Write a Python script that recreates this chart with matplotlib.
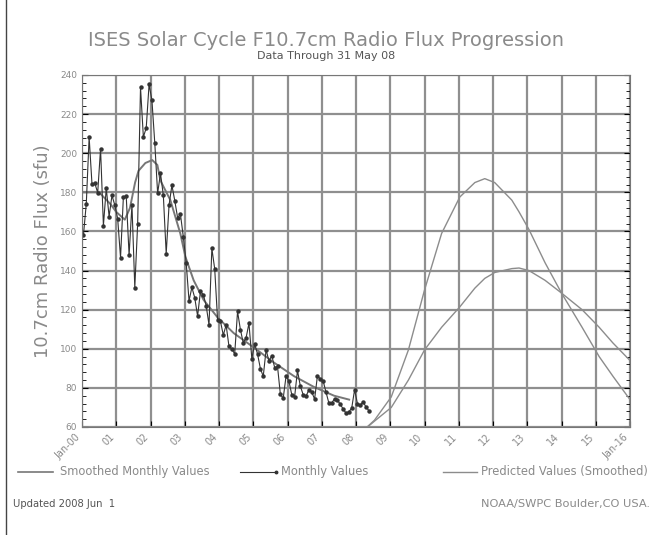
import matplotlib.pyplot as plt
import numpy as np
from matplotlib.ticker import MultipleLocator

# monthly observed F10.7 (Jan 2000 .. May 2008)
monthly = [
    158.1, 174.1, 208.2, 184.2, 184.6, 179.8, 202.3, 163.0, 182.1, 167.6, 178.4, 173.4,   # 2000
    166.6, 146.6, 177.7, 178.0, 147.8, 173.7, 131.3, 163.9, 233.7, 208.3, 212.9, 235.2,   # 2001
    227.1, 205.2, 179.5, 189.8, 178.4, 148.7, 173.5, 183.6, 175.8, 167.0, 168.7, 157.2,   # 2002
    144.0, 124.5, 131.4, 126.1, 116.7, 129.3, 127.7, 122.1, 112.2, 151.3, 140.8, 114.8,   # 2003
    114.1, 107.0, 112.1, 101.2, 99.8, 97.4, 119.1, 109.8, 103.0, 105.7, 113.0, 95.0,      # 2004
    102.5, 97.3, 89.9, 85.9, 99.5, 93.7, 96.5, 90.4, 91.0, 76.7, 74.7, 86.1,              # 2005
    83.4, 76.5, 75.5, 88.9, 80.9, 76.5, 75.8, 79.0, 77.8, 74.3, 86.3, 84.4,               # 2006
    83.5, 77.8, 72.2, 72.4, 74.4, 73.7, 71.6, 69.2, 67.1, 67.7, 69.7, 79.0,               # 2007
    72.0, 71.2, 72.9, 70.2, 68.4,                                                         # 2008
]
monthly_t = [(i + 0.5) / 12 for i in range(len(monthly))]

# smoothed monthly values (years since Jan 2000)
smooth_t = [0.0, 0.5, 0.83, 1.0, 1.25, 1.4, 1.55, 1.65, 1.85, 2.05, 2.2, 2.29, 2.58, 2.87, 3.02,
            3.26, 3.55, 3.96, 4.43, 4.99, 5.6, 6.19, 6.77, 7.36, 7.8]
smooth_v = [180, 180, 174, 170, 166, 172, 185, 191, 195, 196.5, 194, 186, 176, 159, 147,
            135, 125, 116, 108, 101, 93, 86, 80.5, 76, 74]

# predicted (smoothed) values, high and low
pred_t = [8.2, 8.54, 9.03, 9.53, 10.0, 10.5, 11.03, 11.47, 11.76, 12.05, 12.55, 12.76, 13.05,
          13.52, 14.0, 14.6, 15.1, 15.5, 16.0]
pred_hi = [58, 63.5, 75.4, 99.4, 130, 159, 177.6, 185, 187, 185, 176, 170, 161,
           144, 128.5, 111, 96, 86, 74]
pred_lo = [58, 63.0, 70, 84, 99.4, 111, 121.4, 131, 136, 139, 141, 141.3, 140,
           135, 128.5, 120, 111, 103, 94]

xlabels = ['Jan-00'] + ['%02d' % y for y in range(1, 16)] + ['Jan-16']

txt = '#8a8a8a'
fig = plt.figure(figsize=(6.52, 5.35), dpi=100)
ax = fig.add_axes([82 / 652, 1 - 427 / 535, 548 / 652, 352 / 535])

ax.plot(smooth_t, smooth_v, color='#777777', lw=1.4)
ax.plot(monthly_t, monthly, color='#333333', lw=0.8, marker='o', ms=2.2)
ax.plot(pred_t, pred_hi, color='#8c8c8c', lw=1.0)
ax.plot(pred_t, pred_lo, color='#8c8c8c', lw=1.0)

ax.set_xlim(0, 16)
ax.set_ylim(60, 240)
ax.set_xticks(range(17))
ax.set_xticklabels(xlabels, rotation=45, ha='right', fontsize=7, color=txt)
ax.set_yticks(range(60, 241, 20))
ax.tick_params(axis='y', labelsize=6.5, labelcolor=txt, direction='in', length=4)
ax.tick_params(axis='x', direction='in', length=4)
ax.yaxis.set_minor_locator(MultipleLocator(4))
ax.tick_params(axis='y', which='minor', direction='in', length=3, right=True)
ax.tick_params(axis='y', which='major', right=True)
ax.grid(True, color='#8f8f8f', lw=1.6)
ax.set_axisbelow(True)
for s in ax.spines.values():
    s.set_color('#777777')

ax.set_ylabel('10.7cm Radio Flux (sfu)', fontsize=13, color=txt, labelpad=6)

fig.text(0.50, 1 - 40 / 535, 'ISES Solar Cycle F10.7cm Radio Flux Progression',
         ha='center', va='center', fontsize=14, color=txt)
fig.text(0.50, 1 - 56 / 535, 'Data Through 31 May 08', ha='center', va='center',
         fontsize=8, color='#555555')

# legend row
ly = 1 - 472 / 535
fig.add_artist(plt.Line2D([18 / 652, 53 / 652], [ly, ly], color='#777777', lw=1.2))
fig.text(60 / 652, ly, 'Smoothed Monthly Values', va='center', fontsize=8.3, color=txt)
fig.add_artist(plt.Line2D([240 / 652, 276 / 652], [ly, ly], color='#333333', lw=0.8,
                          marker='o', ms=1.8, markevery=[1]))
fig.text(281 / 652, ly, 'Monthly Values', va='center', fontsize=8.3, color=txt)
fig.add_artist(plt.Line2D([443 / 652, 477 / 652], [ly, ly], color='#8c8c8c', lw=1.0))
fig.text(481 / 652, ly, 'Predicted Values (Smoothed)', va='center', fontsize=8.3, color=txt)

fig.text(13 / 652, 1 - 504 / 535, 'Updated 2008 Jun  1', va='center', fontsize=7.2, color='#555555')
fig.text(650 / 652, 1 - 504 / 535, 'NOAA/SWPC Boulder,CO USA.', va='center', ha='right',
         fontsize=8.2, color=txt)

fig.add_artist(plt.Line2D([6 / 652, 6 / 652], [0, 1], color='#444444', lw=1.0))

fig.savefig('out.png', dpi=100)
